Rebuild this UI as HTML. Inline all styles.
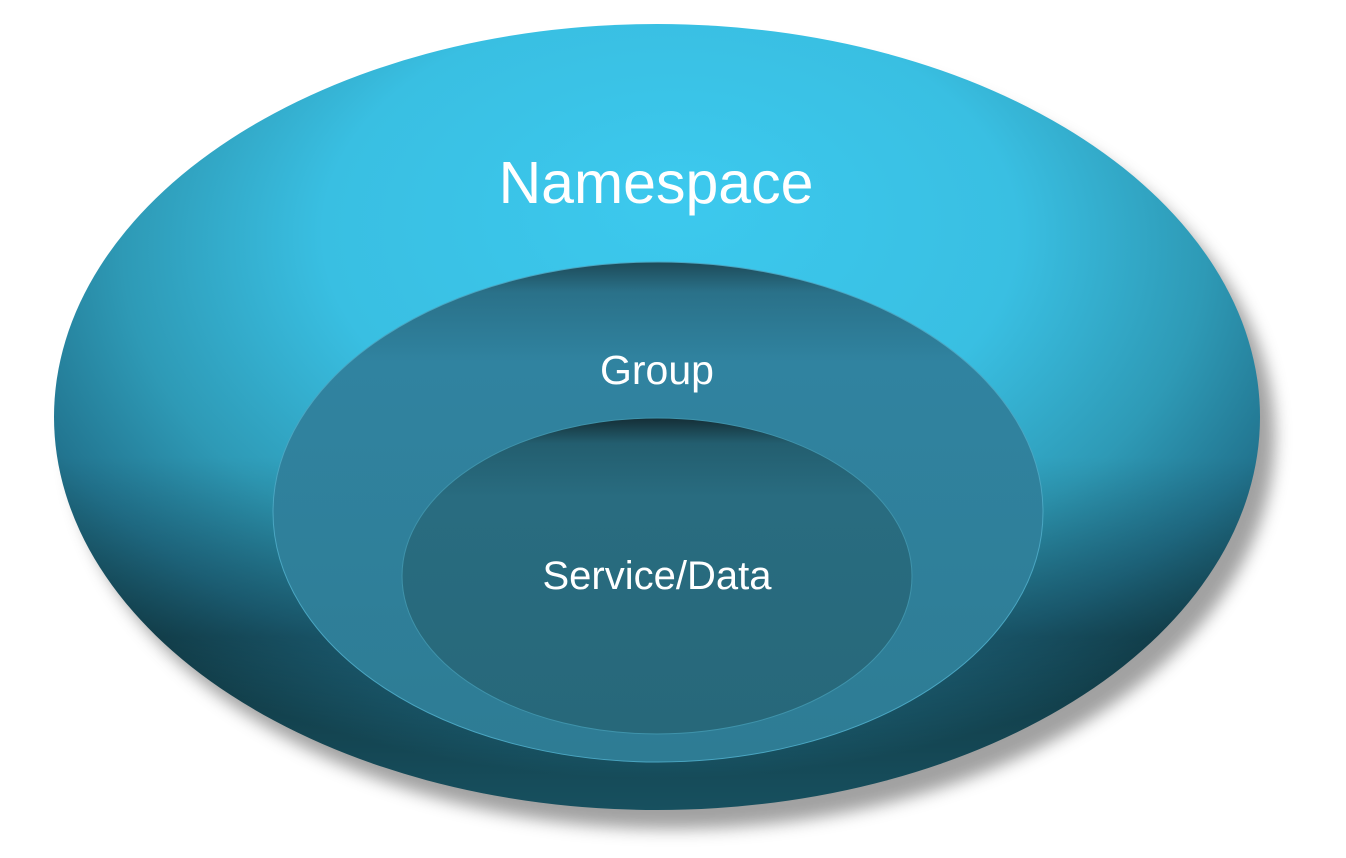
<!DOCTYPE html>
<html><head><meta charset="utf-8"><style>
html,body{margin:0;padding:0;background:#fff;width:1346px;height:858px;overflow:hidden}
</style></head><body>
<svg width="1346" height="858" viewBox="0 0 1346 858" xmlns="http://www.w3.org/2000/svg">
<defs>
<filter id="blur" x="-20%" y="-20%" width="140%" height="140%"><feGaussianBlur stdDeviation="8"/></filter>
<radialGradient id="outer" cx="0.5" cy="0.32" r="0.64" fx="0.52" fy="0.22">
<stop offset="0" stop-color="#3cc9ee"/>
<stop offset="0.45" stop-color="#39bfe2"/>
<stop offset="0.7" stop-color="#2e9ab6"/>
<stop offset="0.86" stop-color="#227590"/>
<stop offset="1" stop-color="#17505f"/>
</radialGradient>
<linearGradient id="outerV" x1="0" y1="0" x2="0" y2="1">
<stop offset="0.55" stop-color="#000" stop-opacity="0"/>
<stop offset="0.78" stop-color="#000" stop-opacity="0.3"/>
<stop offset="0.9" stop-color="#000" stop-opacity="0.15"/>
<stop offset="1" stop-color="#000" stop-opacity="0"/>
</linearGradient>
<linearGradient id="mid" x1="0" y1="0" x2="0" y2="1">
<stop offset="0" stop-color="#1d4a58"/>
<stop offset="0.06" stop-color="#2a7189"/>
<stop offset="0.2" stop-color="#3083a0"/>
<stop offset="1" stop-color="#2e7c94"/>
</linearGradient>
<linearGradient id="inn" x1="0" y1="0" x2="0" y2="1">
<stop offset="0" stop-color="#142e36"/>
<stop offset="0.08" stop-color="#235e6f"/>
<stop offset="0.25" stop-color="#296c80"/>
<stop offset="1" stop-color="#27687a"/>
</linearGradient>
</defs>
<ellipse cx="672" cy="436" rx="603" ry="393" fill="#555" opacity="0.55" filter="url(#blur)"/>
<ellipse cx="657" cy="417" rx="603" ry="393" fill="url(#outer)"/>
<ellipse cx="657" cy="417" rx="603" ry="393" fill="url(#outerV)"/>
<ellipse cx="658" cy="512" rx="385" ry="250" fill="url(#mid)" stroke="#4aa6c2" stroke-width="1"/>
<ellipse cx="657" cy="576" rx="255" ry="158" fill="url(#inn)" stroke="#3f93ab" stroke-width="1"/>
<g font-family="Liberation Sans, sans-serif" fill="#fff" text-anchor="middle">
<text x="656" y="203" font-size="59">Namespace</text>
<text x="657" y="384" font-size="41">Group</text>
<text x="657" y="589" font-size="40">Service/Data</text>
</g>
</svg>
</body></html>
